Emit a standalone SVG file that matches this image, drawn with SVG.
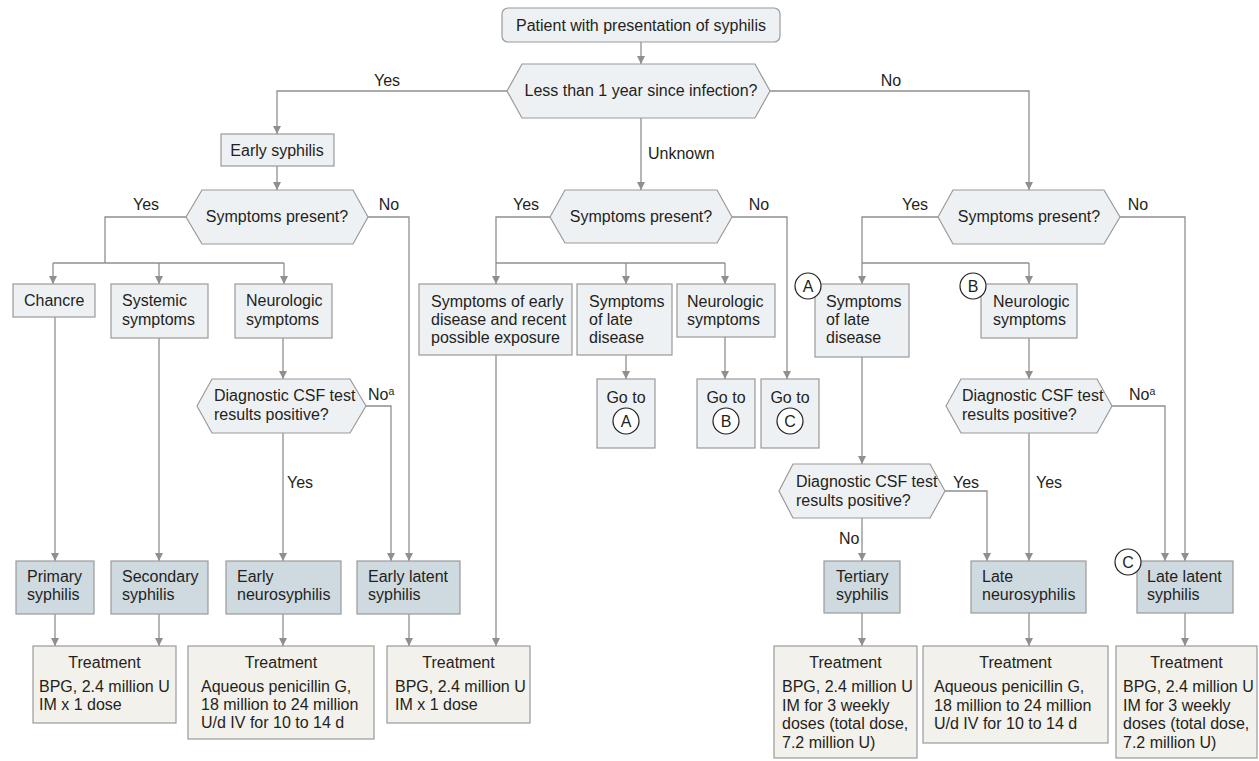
<svg xmlns="http://www.w3.org/2000/svg" width="1259" height="761" viewBox="0 0 1259 761">
<defs>
<marker id="ah" markerUnits="userSpaceOnUse" markerWidth="9" markerHeight="9" refX="8" refY="4" orient="auto">
<path d="M0,0 L8,4 L0,8 z" fill="#8f8f8f"/>
</marker>
<style>
text{font-family:"Liberation Sans",Arial,sans-serif;font-size:16px;fill:#231f20}
.c{text-anchor:middle}
.lt{fill:#eef1f4;stroke:#9a9a9a;stroke-width:1.2}
.dx{fill:#cfd9e0;stroke:#9a9a9a;stroke-width:1.2}
.tx{fill:#f3f1eb;stroke:#9a9a9a;stroke-width:1.2}
.ci{fill:#ffffff;stroke:#231f20;stroke-width:1.2}
.ln{fill:none;stroke:#8f8f8f;stroke-width:1.3}
.ar{fill:none;stroke:#8f8f8f;stroke-width:1.3;marker-end:url(#ah)}
.sup{font-size:10.5px}
</style>
</defs>
<rect width="1259" height="761" fill="#ffffff"/>

<g id="connectors">
<path class="ar" d="M641,42 V64"/>
<path class="ar" d="M507,91 H277 V134"/>
<path class="ar" d="M770,91 H1029 V190"/>
<path class="ar" d="M641,118 V190"/>
<path class="ar" d="M277,166 V190"/>
<path class="ln" d="M186,217 H105 V263"/>
<path class="ln" d="M53,263 H284"/>
<path class="ar" d="M53,263 V284"/>
<path class="ar" d="M159,263 V284"/>
<path class="ar" d="M284,263 V284"/>
<path class="ar" d="M368,217 H409 V561"/>
<path class="ar" d="M55,317 V561"/>
<path class="ar" d="M159,338 V561"/>
<path class="ar" d="M283,338 V379"/>
<path class="ar" d="M366,406 H391 V561"/>
<path class="ar" d="M283,433 V561"/>
<path class="ar" d="M55,614 V646"/>
<path class="ar" d="M159,614 V646"/>
<path class="ar" d="M283,614 V646"/>
<path class="ar" d="M409,614 V646"/>
<path class="ln" d="M550,217 H496 V263"/>
<path class="ln" d="M496,263 H725"/>
<path class="ar" d="M496,263 V284"/>
<path class="ar" d="M626,263 V284"/>
<path class="ar" d="M725,263 V284"/>
<path class="ar" d="M732,217 H787 V379"/>
<path class="ar" d="M496,355 V646"/>
<path class="ar" d="M626,355 V379"/>
<path class="ar" d="M725,337 V379"/>
<path class="ln" d="M938,217 H862 V263"/>
<path class="ln" d="M862,263 H1029"/>
<path class="ar" d="M862,263 V284"/>
<path class="ar" d="M1029,263 V284"/>
<path class="ar" d="M1120,217 H1185 V561"/>
<path class="ar" d="M862,357 V464"/>
<path class="ar" d="M1029,338 V379"/>
<path class="ar" d="M1112,406 H1165 V561"/>
<path class="ar" d="M1029,433 V561"/>
<path class="ar" d="M945,491 H987 V561"/>
<path class="ar" d="M862,518 V561"/>
<path class="ar" d="M862,613 V646"/>
<path class="ar" d="M1029,613 V646"/>
<path class="ar" d="M1185,613 V646"/>
</g>

<g id="labels">
<text class="c" x="387" y="86">Yes</text>
<text class="c" x="891" y="86">No</text>
<text x="648" y="159">Unknown</text>
<text class="c" x="146" y="210">Yes</text>
<text class="c" x="389" y="210">No</text>
<text class="c" x="526" y="210">Yes</text>
<text class="c" x="759" y="210">No</text>
<text class="c" x="915" y="210">Yes</text>
<text class="c" x="1138" y="210">No</text>
<text x="368" y="400">No<tspan class="sup" dy="-5">a</tspan></text>
<text x="287" y="488">Yes</text>
<text x="1129" y="400">No<tspan class="sup" dy="-5">a</tspan></text>
<text x="953" y="488">Yes</text>
<text x="1036" y="488">Yes</text>
<text x="839" y="544">No</text>
</g>

<g id="n-start">
<rect class="lt" x="502" y="8" width="278" height="34" rx="6"/>
<text class="c" x="641" y="31">Patient with presentation of syphilis</text>
</g>
<g id="d-time">
<polygon class="lt" points="507,91 522,64 755,64 770,91 755,118 522,118"/>
<text class="c" x="641" y="96">Less than 1 year since infection?</text>
</g>
<g id="n-early">
<rect class="lt" x="221" y="134" width="113" height="32"/>
<text class="c" x="277" y="156">Early syphilis</text>
</g>
<g id="d-sym-left">
<polygon class="lt" points="186,217 202,190 353,190 368,217 353,244 202,244"/>
<text class="c" x="277" y="222">Symptoms present?</text>
</g>
<g id="d-sym-mid">
<polygon class="lt" points="550,217 565,190 717,190 732,217 717,243 565,243"/>
<text class="c" x="641" y="222">Symptoms present?</text>
</g>
<g id="d-sym-right">
<polygon class="lt" points="938,217 953,190 1104,190 1120,217 1104,244 953,244"/>
<text class="c" x="1029" y="222">Symptoms present?</text>
</g>

<g id="n-chancre">
<rect class="lt" x="13" y="284" width="82" height="33"/>
<text x="24" y="306">Chancre</text>
</g>
<g id="n-systemic">
<rect class="lt" x="111" y="284" width="97" height="54"/>
<text x="122" y="306">Systemic</text>
<text x="122" y="325">symptoms</text>
</g>
<g id="n-neuro-left">
<rect class="lt" x="235" y="284" width="97" height="54"/>
<text x="246" y="306">Neurologic</text>
<text x="246" y="325">symptoms</text>
</g>
<g id="d-csf-left">
<polygon class="lt" points="197,406 212,379 350,379 366,406 350,433 212,433"/>
<text x="214" y="401">Diagnostic CSF test</text>
<text x="214" y="420">results positive?</text>
</g>

<g id="n-early-exposure">
<rect class="lt" x="419" y="284" width="153" height="71"/>
<text x="431" y="307">Symptoms of early</text>
<text x="431" y="325">disease and recent</text>
<text x="431" y="343">possible exposure</text>
</g>
<g id="n-late-mid">
<rect class="lt" x="577" y="284" width="95" height="71"/>
<text x="589" y="307">Symptoms</text>
<text x="589" y="325">of late</text>
<text x="589" y="343">disease</text>
</g>
<g id="n-neuro-mid">
<rect class="lt" x="677" y="284" width="98" height="53"/>
<text x="687" y="307">Neurologic</text>
<text x="687" y="325">symptoms</text>
</g>
<g id="n-goto-a">
<rect class="lt" x="597" y="379" width="58" height="69"/>
<text class="c" x="626" y="403">Go to</text>
<circle class="ci" cx="626" cy="421" r="13"/>
<text class="c" x="626" y="427">A</text>
</g>
<g id="n-goto-b">
<rect class="lt" x="697" y="379" width="58" height="69"/>
<text class="c" x="726" y="403">Go to</text>
<circle class="ci" cx="726" cy="421" r="13"/>
<text class="c" x="726" y="427">B</text>
</g>
<g id="n-goto-c">
<rect class="lt" x="761" y="379" width="58" height="69"/>
<text class="c" x="790" y="403">Go to</text>
<circle class="ci" cx="790" cy="421" r="13"/>
<text class="c" x="790" y="427">C</text>
</g>

<g id="n-late-right">
<rect class="lt" x="815" y="284" width="94" height="73"/>
<text x="826" y="307">Symptoms</text>
<text x="826" y="325">of late</text>
<text x="826" y="343">disease</text>
<circle class="ci" cx="808" cy="286" r="13"/>
<text class="c" x="808" y="292">A</text>
</g>
<g id="n-neuro-right">
<rect class="lt" x="981" y="284" width="96" height="54"/>
<text x="993" y="307">Neurologic</text>
<text x="993" y="325">symptoms</text>
<circle class="ci" cx="973" cy="286" r="13"/>
<text class="c" x="973" y="292">B</text>
</g>
<g id="d-csf-right">
<polygon class="lt" points="946,406 961,379 1097,379 1112,406 1097,433 961,433"/>
<text x="962" y="401">Diagnostic CSF test</text>
<text x="962" y="420">results positive?</text>
</g>
<g id="d-csf-midright">
<polygon class="lt" points="779,491 793,464 930,464 945,491 930,518 793,518"/>
<text x="796" y="487">Diagnostic CSF test</text>
<text x="796" y="506">results positive?</text>
</g>

<g id="n-primary">
<rect class="dx" x="16" y="561" width="78" height="53"/>
<text x="27" y="582">Primary</text>
<text x="27" y="600">syphilis</text>
</g>
<g id="n-secondary">
<rect class="dx" x="111" y="561" width="97" height="53"/>
<text x="122" y="582">Secondary</text>
<text x="122" y="600">syphilis</text>
</g>
<g id="n-early-neuro">
<rect class="dx" x="226" y="561" width="115" height="53"/>
<text x="237" y="582">Early</text>
<text x="237" y="600">neurosyphilis</text>
</g>
<g id="n-early-latent">
<rect class="dx" x="357" y="561" width="103" height="53"/>
<text x="368" y="582">Early latent</text>
<text x="368" y="600">syphilis</text>
</g>
<g id="n-tertiary">
<rect class="dx" x="824" y="561" width="76" height="52"/>
<text x="836" y="582">Tertiary</text>
<text x="836" y="600">syphilis</text>
</g>
<g id="n-late-neuro">
<rect class="dx" x="971" y="561" width="115" height="52"/>
<text x="982" y="582">Late</text>
<text x="982" y="600">neurosyphilis</text>
</g>
<g id="n-late-latent">
<rect class="dx" x="1137" y="561" width="96" height="52"/>
<text x="1147" y="582">Late latent</text>
<text x="1147" y="600">syphilis</text>
<circle class="ci" cx="1128" cy="562" r="13"/>
<text class="c" x="1128" y="568">C</text>
</g>

<g id="t1">
<rect class="tx" x="33" y="646" width="143" height="77"/>
<text class="c" x="104.5" y="668">Treatment</text>
<text x="39" y="692">BPG, 2.4 million U</text>
<text x="39" y="710">IM x 1 dose</text>
</g>
<g id="t2">
<rect class="tx" x="188" y="646" width="186" height="93"/>
<text class="c" x="281" y="668">Treatment</text>
<text x="201" y="692">Aqueous penicillin G,</text>
<text x="201" y="710">18 million to 24 million</text>
<text x="201" y="728">U/d IV for 10 to 14 d</text>
</g>
<g id="t3">
<rect class="tx" x="387" y="646" width="143" height="77"/>
<text class="c" x="458.5" y="668">Treatment</text>
<text x="395" y="692">BPG, 2.4 million U</text>
<text x="395" y="710">IM x 1 dose</text>
</g>
<g id="t4">
<rect class="tx" x="774" y="646" width="143" height="112"/>
<text class="c" x="845.5" y="668">Treatment</text>
<text x="782" y="692">BPG, 2.4 million U</text>
<text x="782" y="710.5">IM for 3 weekly</text>
<text x="782" y="729">doses (total dose,</text>
<text x="782" y="747.5">7.2 million U)</text>
</g>
<g id="t5">
<rect class="tx" x="923" y="646" width="185" height="97"/>
<text class="c" x="1015.5" y="668">Treatment</text>
<text x="934" y="692">Aqueous penicillin G,</text>
<text x="934" y="710.5">18 million to 24 million</text>
<text x="934" y="729">U/d IV for 10 to 14 d</text>
</g>
<g id="t6">
<rect class="tx" x="1116" y="646" width="141" height="112"/>
<text class="c" x="1186.5" y="668">Treatment</text>
<text x="1123" y="692">BPG, 2.4 million U</text>
<text x="1123" y="710.5">IM for 3 weekly</text>
<text x="1123" y="729">doses (total dose,</text>
<text x="1123" y="747.5">7.2 million U)</text>
</g>
</svg>
